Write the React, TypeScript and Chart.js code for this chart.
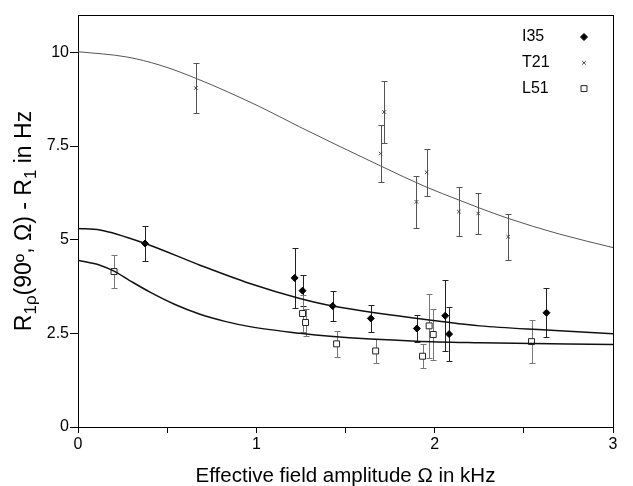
import React, { useEffect, useRef } from 'react';
import { Chart, registerables } from 'chart.js';
import { drawPoint } from 'chart.js/helpers';

Chart.register(...registerables);

// ---- measured data points (x in kHz, y in Hz, symmetric error) ----
const i35X = [0.376, 1.215, 1.259, 1.428, 1.642, 1.900, 2.059, 2.081, 2.627];
const i35Y = [4.90, 3.98, 3.64, 3.23, 2.90, 2.63, 2.97, 2.48, 3.05];
const i35Err = [0.47, 0.80, 0.42, 0.39, 0.37, 0.37, 0.95, 0.72, 0.66];

const t21X = [0.661, 1.697, 1.717, 1.898, 1.955, 2.136, 2.244, 2.412];
const t21Y = [9.05, 7.30, 8.41, 6.01, 6.80, 5.75, 5.70, 5.08];
const t21Err = [0.67, 0.76, 0.82, 0.69, 0.62, 0.66, 0.55, 0.62];

const l51X = [0.202, 1.259, 1.276, 1.450, 1.669, 1.932, 1.969, 1.992, 2.543];
const l51Y = [4.15, 3.03, 2.79, 2.22, 2.03, 1.89, 2.70, 2.47, 2.28];
const l51Err = [0.43, 0.50, 0.36, 0.34, 0.33, 0.32, 0.86, 0.67, 0.58];

// ---- fitted curves ----
const t21CurveX = [0, 0.273, 0.46, 0.661, 1.02, 1.244, 1.697, 1.951, 2.136, 2.244, 2.412, 2.70, 3.0];
const t21CurveY = [10.02, 9.88, 9.66, 9.31, 8.55, 8.01, 6.97, 6.41, 6.06, 5.86, 5.57, 5.15, 4.79];

const i35CurveX = [0, 0.123, 0.376, 0.684, 0.964, 1.244, 1.428, 2.085, 2.253, 2.627, 3.0];
const i35CurveY = [5.30, 5.26, 4.90, 4.32, 3.83, 3.43, 3.23, 2.79, 2.70, 2.59, 2.49];

const l51CurveX = [0, 0.123, 0.202, 0.29, 0.404, 0.544, 0.684, 0.824, 0.964, 1.244, 1.413, 1.898, 2.253, 3.0];
const l51CurveY = [4.45, 4.32, 4.16, 3.91, 3.60, 3.27, 3.01, 2.82, 2.68, 2.50, 2.42, 2.29, 2.25, 2.20];

const xTickLabels = ['0', '1', '2', '3'];
const yTickLabels = ['0', '2.5', '5', '7.5', '10'];
const legendLabels = ['I35', 'T21', 'L51'];

const FONT = "'Liberation Sans', Arial, Helvetica, sans-serif";

const pts = (xs: number[], ys: number[]) => xs.map((x, i) => ({ x, y: ys[i] }));

const errorBarPlugin = {
  id: 'errorBars',
  beforeDatasetDraw(chart: any, args: any) {
    const ds = chart.data.datasets[args.index];
    if (!ds.errors) return;
    const { ctx } = chart;
    const xs = chart.scales.x;
    const ys = chart.scales.y;
    ctx.save();
    ctx.strokeStyle = ds.errorColor;
    ctx.lineWidth = 1;
    ds.data.forEach((p: any, i: number) => {
      const e = ds.errors[i];
      const px = Math.round(xs.getPixelForValue(p.x)) + 0.5;
      const y1 = Math.round(ys.getPixelForValue(p.y + e)) + 0.5;
      const y2 = Math.round(ys.getPixelForValue(p.y - e)) + 0.5;
      ctx.beginPath();
      ctx.moveTo(px, y1);
      ctx.lineTo(px, y2);
      ctx.moveTo(px - 3, y1);
      ctx.lineTo(px + 3, y1);
      ctx.moveTo(px - 3, y2);
      ctx.lineTo(px + 3, y2);
      ctx.stroke();
    });
    ctx.restore();
  },
};

const framePlugin = {
  id: 'frame',
  beforeDatasetsDraw(chart: any) {
    const { ctx, chartArea: a } = chart;
    ctx.save();
    ctx.strokeStyle = '#000';
    ctx.lineWidth = 1;
    ctx.strokeRect(Math.round(a.left) + 0.5, Math.round(a.top) + 0.5, Math.round(a.right - a.left), Math.round(a.bottom - a.top));
    ctx.restore();
  },
};

const yTitlePlugin = {
  id: 'yTitle',
  afterDraw(chart: any) {
    const { ctx, chartArea: a } = chart;
    const parts = [
      { t: 'R', sub: false },
      { t: '1\u03C1', sub: true },
      { t: '(90\u00BA, \u03A9) - R', sub: false },
      { t: '1', sub: true },
      { t: ' in Hz', sub: false },
    ];
    const big = `23px ${FONT}`;
    const small = `17px ${FONT}`;
    ctx.save();
    ctx.fillStyle = '#000';
    let total = 0;
    const widths = parts.map((p) => {
      ctx.font = p.sub ? small : big;
      const w = ctx.measureText(p.t).width;
      total += w;
      return w;
    });
    ctx.translate(23, (a.top + a.bottom) / 2);
    ctx.rotate(-Math.PI / 2);
    ctx.textBaseline = 'alphabetic';
    ctx.textAlign = 'left';
    let x = -total / 2;
    parts.forEach((p, i) => {
      ctx.font = p.sub ? small : big;
      ctx.fillText(p.t, x, p.sub ? 13 : 8);
      x += widths[i];
    });
    ctx.restore();
  },
};

const legendPlugin = {
  id: 'customLegend',
  afterDraw(chart: any) {
    const { ctx } = chart;
    const styles = [
      { pointStyle: 'rectRot', radius: 3.5, fill: '#000', stroke: '#000' },
      { pointStyle: 'crossRot', radius: 2.5, fill: '#444', stroke: '#444' },
      { pointStyle: 'rect', radius: 4.2, fill: '#fff', stroke: '#222' },
    ];
    ctx.save();
    ctx.font = `16px ${FONT}`;
    ctx.textBaseline = 'middle';
    ctx.textAlign = 'left';
    legendLabels.forEach((label, i) => {
      const y = 37 + i * 25.8;
      ctx.fillStyle = '#000';
      ctx.fillText(label, 522, y);
      const s = styles[i];
      ctx.fillStyle = s.fill;
      ctx.strokeStyle = s.stroke;
      ctx.lineWidth = 1;
      drawPoint(ctx, { pointStyle: s.pointStyle as any, radius: s.radius, rotation: 0, borderWidth: 1 }, 584, y);
    });
    ctx.restore();
  },
};

export default function App() {
  const ref = useRef<HTMLCanvasElement | null>(null);

  useEffect(() => {
    if (!ref.current) return;
    const chart = new Chart(ref.current, {
      type: 'scatter',
      data: {
        datasets: [
          {
            type: 'line',
            label: 'T21 fit',
            data: pts(t21CurveX, t21CurveY),
            borderColor: '#555',
            borderWidth: 1,
            pointRadius: 0,
            cubicInterpolationMode: 'monotone',
            fill: false,
          } as any,
          {
            type: 'line',
            label: 'I35 fit',
            data: pts(i35CurveX, i35CurveY),
            borderColor: '#111',
            borderWidth: 1.5,
            pointRadius: 0,
            cubicInterpolationMode: 'monotone',
            fill: false,
          } as any,
          {
            type: 'line',
            label: 'L51 fit',
            data: pts(l51CurveX, l51CurveY),
            borderColor: '#111',
            borderWidth: 1.5,
            pointRadius: 0,
            cubicInterpolationMode: 'monotone',
            fill: false,
          } as any,
          {
            label: 'T21',
            data: pts(t21X, t21Y),
            errors: t21Err,
            errorColor: '#555',
            pointStyle: 'crossRot',
            pointRadius: 2.5,
            borderColor: '#444',
            backgroundColor: '#444',
            borderWidth: 1,
          } as any,
          {
            label: 'L51',
            data: pts(l51X, l51Y),
            errors: l51Err,
            errorColor: '#777',
            pointStyle: 'rect',
            pointRadius: 4.2,
            borderColor: '#222',
            backgroundColor: '#fff',
            borderWidth: 1,
          } as any,
          {
            label: 'I35',
            data: pts(i35X, i35Y),
            errors: i35Err,
            errorColor: '#222',
            pointStyle: 'rectRot',
            pointRadius: 3.5,
            borderColor: '#000',
            backgroundColor: '#000',
            borderWidth: 1,
          } as any,
        ],
      },
      options: {
        animation: false,
        responsive: false,
        devicePixelRatio: 1,
        layout: { padding: { top: 15, right: 20, left: 0, bottom: 0 } },
        plugins: {
          legend: { display: false },
          tooltip: { enabled: false },
        },
        scales: {
          x: {
            type: 'linear',
            min: 0,
            max: 3,
            afterFit: (s: any) => {
              s.height = 59;
            },
            grid: { drawOnChartArea: false, tickLength: 6, color: '#000', tickColor: '#000' },
            border: { color: '#000' },
            ticks: {
              stepSize: 0.5,
              autoSkip: false,
              maxRotation: 0,
              padding: 2,
              color: '#000',
              font: { size: 16, family: FONT },
              callback: (v: any) => {
                const n = Number(v);
                return Number.isInteger(n) ? xTickLabels[n] : '';
              },
            },
            title: {
              display: true,
              text: 'Effective field amplitude \u03A9 in kHz',
              color: '#000',
              font: { size: 20.5, family: FONT },
              padding: { top: 0, bottom: -3 },
            },
          },
          y: {
            type: 'linear',
            min: 0,
            max: 11,
            afterFit: (s: any) => {
              s.width = 78;
            },
            grid: { drawOnChartArea: false, tickLength: 8, color: '#000', tickColor: '#000' },
            border: { color: '#000' },
            ticks: {
              stepSize: 2.5,
              includeBounds: false,
              padding: 1,
              color: '#000',
              font: { size: 16, family: FONT },
              callback: (v: any) => {
                const idx = Math.round(Number(v) / 2.5);
                return yTickLabels[idx] ?? '';
              },
            },
          },
        },
      },
      plugins: [framePlugin, errorBarPlugin, yTitlePlugin, legendPlugin],
    });
    return () => chart.destroy();
  }, []);

  return (
    <div style={{ position: 'absolute', left: 0, top: 0, width: 633, height: 486, background: '#fff' }}>
      <canvas ref={ref} width={633} height={486} style={{ display: 'block' }} />
    </div>
  );
}
